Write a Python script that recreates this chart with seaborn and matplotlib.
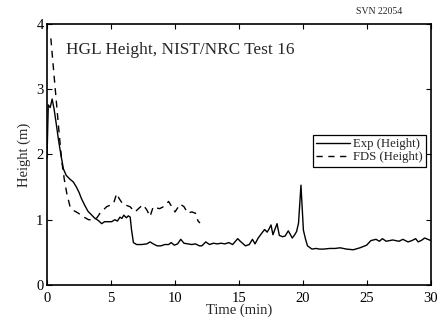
import numpy as np
import pandas as pd
import matplotlib
matplotlib.use("Agg")
import matplotlib.pyplot as plt
import seaborn as sns

# Experimental HGL height (solid line)
exp_time = [0.0, 0.1, 0.25, 0.4, 0.55, 0.7, 0.9, 1.1, 1.28, 1.5, 1.8, 2.05, 2.3, 2.5, 2.7,
            2.95, 3.2, 3.5, 3.75, 4.0, 4.27, 4.5, 4.8, 5.05, 5.3, 5.5, 5.7, 5.85, 6.0, 6.2,
            6.35, 6.5, 6.6, 6.75, 7.0, 7.4, 7.8, 8.05, 8.3, 8.6, 8.9, 9.2, 9.5, 9.7, 9.95,
            10.2, 10.45, 10.7, 11.0, 11.3, 11.6, 11.9, 12.1, 12.4, 12.7, 13.0, 13.3, 13.6,
            13.9, 14.2, 14.5, 14.9, 15.1, 15.5, 15.8, 16.05, 16.25, 16.5, 16.8, 17.0, 17.2,
            17.35, 17.5, 17.65, 17.8, 17.97, 18.15, 18.4, 18.6, 18.85, 19.16, 19.35, 19.5,
            19.65, 19.84, 20.03, 20.2, 20.35, 20.7, 21.0, 21.3, 21.6, 22.1, 22.5, 22.9, 23.4,
            23.93, 24.45, 24.97, 25.3, 25.7, 25.97, 26.2, 26.5, 27.0, 27.5, 27.8, 28.2, 28.5,
            28.8, 29.0, 29.3, 29.5, 29.75, 30.0]
exp_height = [1.95, 2.76, 2.72, 2.85, 2.7, 2.5, 2.22, 1.98, 1.78, 1.68, 1.62, 1.58, 1.5, 1.42,
              1.32, 1.22, 1.13, 1.07, 1.02, 0.99, 0.94, 0.97, 0.97, 0.97, 1.0, 0.98, 1.04,
              1.02, 1.07, 1.03, 1.06, 1.04, 0.85, 0.65, 0.62, 0.62, 0.63, 0.66, 0.63, 0.6,
              0.6, 0.62, 0.62, 0.65, 0.61, 0.63, 0.7, 0.64, 0.63, 0.62, 0.63, 0.6, 0.6, 0.66,
              0.62, 0.64, 0.63, 0.64, 0.63, 0.65, 0.62, 0.71, 0.67, 0.6, 0.62, 0.7, 0.63,
              0.72, 0.8, 0.85, 0.81, 0.86, 0.92, 0.77, 0.85, 0.94, 0.76, 0.74, 0.75, 0.83,
              0.72, 0.77, 0.82, 0.95, 1.53, 0.84, 0.7, 0.6, 0.55, 0.56, 0.55, 0.55, 0.56,
              0.56, 0.57, 0.55, 0.54, 0.57, 0.61, 0.68, 0.7, 0.67, 0.71, 0.67, 0.69, 0.67,
              0.7, 0.66, 0.68, 0.71, 0.66, 0.69, 0.72, 0.7, 0.68]

# FDS predicted HGL height (dashed line)
fds_time = [0.3, 0.6, 0.9, 1.15, 1.35, 1.55, 1.8, 2.1, 2.45, 2.8, 3.25, 3.6, 3.9, 4.14, 4.4,
            4.66, 4.9, 5.2, 5.44, 5.65, 5.96, 6.2, 6.48, 6.88, 7.2, 7.5, 7.8, 8.05, 8.3,
            8.55, 8.8, 9.1, 9.5, 9.75, 10.0, 10.2, 10.4, 10.7, 11.0, 11.3, 11.6, 11.8, 11.95]
fds_height = [3.78, 3.1, 2.43, 1.9, 1.62, 1.4, 1.2, 1.14, 1.1, 1.05, 1.0, 1.0, 1.03, 1.1,
              1.15, 1.2, 1.22, 1.25, 1.4, 1.32, 1.23, 1.22, 1.2, 1.12, 1.18, 1.23, 1.15,
              1.05, 1.2, 1.18, 1.17, 1.2, 1.28, 1.2, 1.12, 1.18, 1.24, 1.2, 1.1, 1.12, 1.1,
              0.98, 0.95]

x_ticks = [0, 5, 10, 15, 20, 25, 30]
y_ticks = [0, 1, 2, 3, 4]

exp_df = pd.DataFrame({"time": exp_time, "height": exp_height})
fds_df = pd.DataFrame({"time": fds_time, "height": fds_height})

sns.set_style("ticks")
plt.rcParams["font.family"] = ["Liberation Serif", "DejaVu Serif"]

fig = plt.figure(figsize=(4.46, 3.26), dpi=100)
ax = fig.add_axes([0.1054, 0.1258, 0.861, 0.8006])

sns.lineplot(data=exp_df, x="time", y="height", ax=ax, color="black", lw=1.0,
             label="Exp (Height)")
sns.lineplot(data=fds_df, x="time", y="height", ax=ax, color="black", lw=1.0,
             dashes=False, label="FDS (Height)")
ax.lines[1].set_dashes([5, 4])

ax.set_xlim(0, 30)
ax.set_ylim(0, 4)
ax.set_xticks(x_ticks)
ax.set_yticks(y_ticks)
ax.tick_params(direction="in", length=3.5, width=0.8, top=True, right=True,
               labelsize=10.5, colors="black")
ax.tick_params(axis="x", pad=5)
ax.tick_params(axis="y", pad=2.5)
for s in ax.spines.values():
    s.set_linewidth(1.2)
    s.set_color("black")

ax.set_xlabel("Time (min)", fontsize=10.5, labelpad=-1)
ax.set_ylabel("Height (m)", fontsize=10.5, labelpad=4)

ax.text(0.05, 0.90, "HGL Height, NIST/NRC Test 16", transform=ax.transAxes,
        fontsize=12.4, va="center", ha="left")
fig.text(0.85, 0.965, "SVN 22054", fontsize=7, ha="center", va="center")

leg = ax.legend(loc="upper right", bbox_to_anchor=(0.986, 0.575), fontsize=9.2,
                frameon=True, fancybox=False, framealpha=1, edgecolor="black",
                handlelength=2.7, handletextpad=0.2, borderpad=0.25,
                labelspacing=0.1, borderaxespad=0)
leg.get_frame().set_linewidth(0.9)
leg.legend_handles[1].set_dashes([4.5, 4])

fig.savefig("out.png", dpi=100)
